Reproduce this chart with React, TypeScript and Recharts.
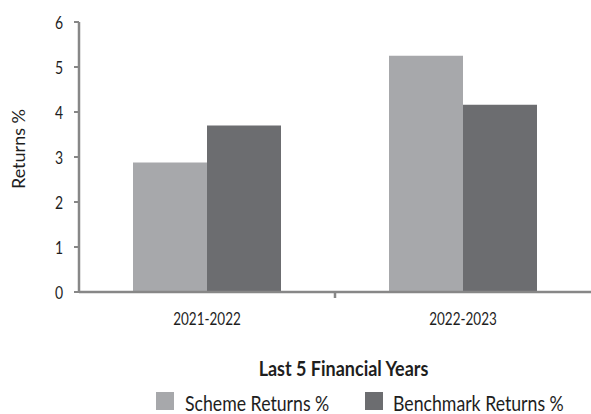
import React from "react";
import { BarChart, Bar, XAxis, YAxis, Legend } from "recharts";

const years = ["2021-2022", "2022-2023"];
const schemeReturns = [2.88, 5.25];
const benchmarkReturns = [3.7, 4.16];
const yTicks = [0, 1, 2, 3, 4, 5, 6];

const SCHEME = "#a7a8ab";
const BENCH = "#6c6d70";
const AXIS = "#878787";
const INK = "#1e1e1e";
const FONT = "Lato, 'Open Sans', sans-serif";

const data = years.map((y, i) => ({
  year: y,
  scheme: schemeReturns[i],
  benchmark: benchmarkReturns[i],
}));

// the source text is tall and narrow, so stretch it a little vertically
const Tall = ({ x, y, sy, children, ...rest }: any) => (
  <text transform={`translate(${x},${y}) scale(1,${sy})`} x={0} y={0} fill={INK} fontFamily={FONT} {...rest}>
    {children}
  </text>
);

// category label plus the boundary tick between categories
const XTick = (props: any) => {
  const { x, y, payload, index, visibleTicksCount } = props;
  const half = payload.offset || 0;
  return (
    <g>
      <Tall x={x} y={y + 32.5} sy={1.3} textAnchor="middle" fontSize={13.5}>
        {payload.value}
      </Tall>
      {index < visibleTicksCount - 1 && (
        <line x1={x + half} x2={x + half} y1={y} y2={y + 6} stroke={AXIS} strokeWidth={2.5} />
      )}
    </g>
  );
};

const YTick = (props: any) => {
  const { x, y, payload } = props;
  return (
    <Tall x={x + 1} y={y + 6.5} sy={1.3} textAnchor="end" fontSize={14}>
      {payload.value}
    </Tall>
  );
};

const YLabel = (props: any) => {
  const vb = props.viewBox;
  const cy = vb.y + vb.height / 2 - 8;
  return (
    <text
      x={18}
      y={cy}
      transform={`rotate(-90, 18, ${cy})`}
      textAnchor="middle"
      dominantBaseline="central"
      fontSize={18}
      fill={INK}
      fontFamily={FONT}
    >
      Returns %
    </text>
  );
};

const LegendBox = () => (
  <svg width={591} height={92} style={{ display: "block" }}>
    <Tall x={343.5} y={54} sy={1.15} textAnchor="middle" fontSize={18} fontWeight={700}>
      Last 5 Financial Years
    </Tall>
    <rect x={156} y={70} width={18} height={18} fill={SCHEME} />
    <Tall x={185} y={89} sy={1.23} fontSize={17.7}>
      Scheme Returns %
    </Tall>
    <rect x={365} y={70} width={18} height={18} fill={BENCH} />
    <Tall x={393} y={89} sy={1.23} fontSize={17.7}>
      Benchmark Returns %
    </Tall>
  </svg>
);

export default function App() {
  return (
    <div style={{ position: "absolute", left: 0, top: 0, width: 591, height: 414, background: "#fff" }}>
      <BarChart
        width={591}
        height={414}
        data={data}
        margin={{ top: 22, right: 0, left: 0, bottom: 0 }}
        barGap={0}
      >
        <XAxis
          dataKey="year"
          height={30}
          axisLine={{ stroke: AXIS, strokeWidth: 2.5 }}
          tickLine={false}
          tickSize={0}
          tickMargin={0}
          tick={<XTick />}
          interval={0}
        />
        <YAxis
          width={79}
          domain={[0, 6]}
          ticks={yTicks}
          interval={0}
          axisLine={{ stroke: AXIS, strokeWidth: 2.5 }}
          tickLine={{ stroke: AXIS, strokeWidth: 2 }}
          tickSize={5}
          tickMargin={12}
          tick={<YTick />}
          label={<YLabel />}
        />
        <Legend verticalAlign="bottom" content={<LegendBox />} />
        <Bar dataKey="scheme" name="Scheme Returns %" fill={SCHEME} barSize={74} isAnimationActive={false} />
        <Bar dataKey="benchmark" name="Benchmark Returns %" fill={BENCH} barSize={74} isAnimationActive={false} />
      </BarChart>
    </div>
  );
}
